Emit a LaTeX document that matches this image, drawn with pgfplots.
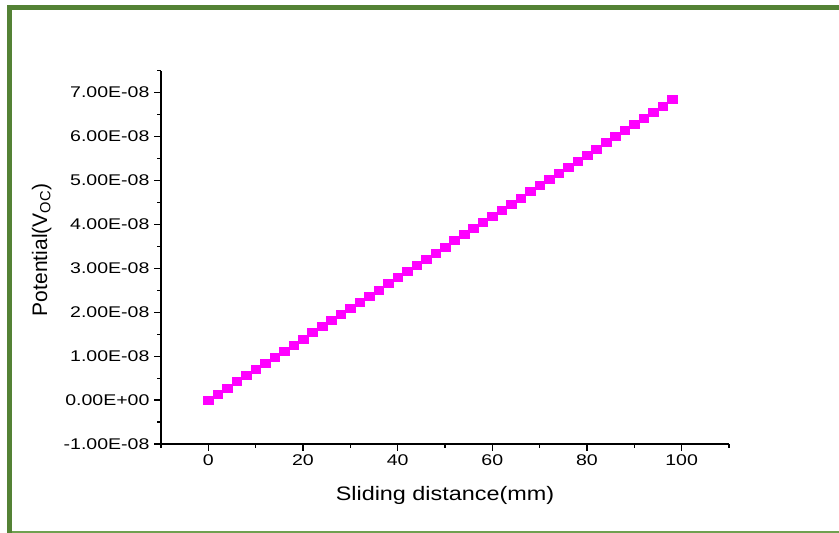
\documentclass[border=0pt]{standalone}
\usepackage{fontspec}
\setmainfont{Liberation Sans}
\newfontfamily\ticksfont[FakeStretch=1.26]{Liberation Sans}
\newfontfamily\labelfont[FakeStretch=1.2]{Liberation Sans}
\newfontfamily\ylabelfont{Liberation Sans}
\usepackage{pgfplots}
\pgfplotsset{compat=1.18}
\definecolor{framegreen}{RGB}{84,130,53}
\definecolor{framegreenlight}{RGB}{112,160,80}
\definecolor{markmagenta}{RGB}{255,0,255}
\begin{document}
\begin{tikzpicture}
\useasboundingbox (0pt,0pt) rectangle (839pt,533pt);
% page frame
\draw[framegreenlight, line width=1.6pt] (7pt,1.2pt) -- (839pt,1.2pt);
\draw[framegreen, line width=5.5pt] (9.6pt,0pt) -- (9.6pt,525.5pt) -- (839pt,525.5pt);
\begin{axis}[
  at={(161pt,89pt)}, anchor=south west,
  scale only axis, width=568pt, height=373.3pt,
  xmin=-10, xmax=110, ymin=-1e-8, ymax=7.5e-8,
  axis x line*=bottom, axis y line*=left,
  axis line style={line width=1.3pt, black},
  tick align=outside,
  major tick length=7pt, minor tick length=4pt,
  every tick/.style={line width=1.2pt, black},
  xtick={0,20,40,60,80,100},
  xticklabels={0,20,40,60,80,100},
  minor xtick={-10,10,30,50,70,90,110},
  ytick={-1e-8,0,1e-8,2e-8,3e-8,4e-8,5e-8,6e-8,7e-8},
  yticklabels={-1.00E-08,0.00E+00,1.00E-08,2.00E-08,3.00E-08,4.00E-08,5.00E-08,6.00E-08,7.00E-08},
  minor ytick={-0.5e-8,0.5e-8,1.5e-8,2.5e-8,3.5e-8,4.5e-8,5.5e-8,6.5e-8,7.5e-8},
  scaled y ticks=false, scaled x ticks=false,
  ticklabel style={font=\ticksfont\fontsize{15.5}{18}\selectfont},
  yticklabel style={xshift=-1pt},
  xlabel={Sliding distance(mm)},
  ylabel={Potential(V\textsubscript{OC})},
  xlabel style={font=\labelfont\fontsize{19.5}{23}\selectfont, anchor=base, at={(axis description cs:0.5,-0.152)}},
  ylabel style={font=\ylabelfont\fontsize{21}{24}\selectfont, anchor=center, rotate=0, at={(axis description cs:-0.21,0.52)}},
  clip=false,
]
\addplot[only marks, mark=square*, mark size=4pt, color=markmagenta,
  mark options={xscale=1.2, draw=markmagenta, fill=markmagenta}] coordinates {
(0,0) (2,0.140e-8) (4,0.279e-8) (6,0.419e-8) (8,0.558e-8)
(10,0.698e-8) (12,0.838e-8) (14,0.977e-8) (16,1.117e-8) (18,1.256e-8)
(20,1.396e-8) (22,1.536e-8) (24,1.675e-8) (26,1.815e-8) (28,1.954e-8)
(30,2.094e-8) (32,2.234e-8) (34,2.373e-8) (36,2.513e-8) (38,2.652e-8)
(40,2.792e-8) (42,2.932e-8) (44,3.071e-8) (46,3.211e-8) (48,3.350e-8)
(50,3.490e-8) (52,3.630e-8) (54,3.769e-8) (56,3.909e-8) (58,4.048e-8)
(60,4.188e-8) (62,4.328e-8) (64,4.467e-8) (66,4.607e-8) (68,4.746e-8)
(70,4.886e-8) (72,5.026e-8) (74,5.165e-8) (76,5.305e-8) (78,5.444e-8)
(80,5.584e-8) (82,5.724e-8) (84,5.863e-8) (86,6.003e-8) (88,6.142e-8)
(90,6.282e-8) (92,6.422e-8) (94,6.561e-8) (96,6.701e-8) (98,6.840e-8)
};
\end{axis}
\end{tikzpicture}
\end{document}
